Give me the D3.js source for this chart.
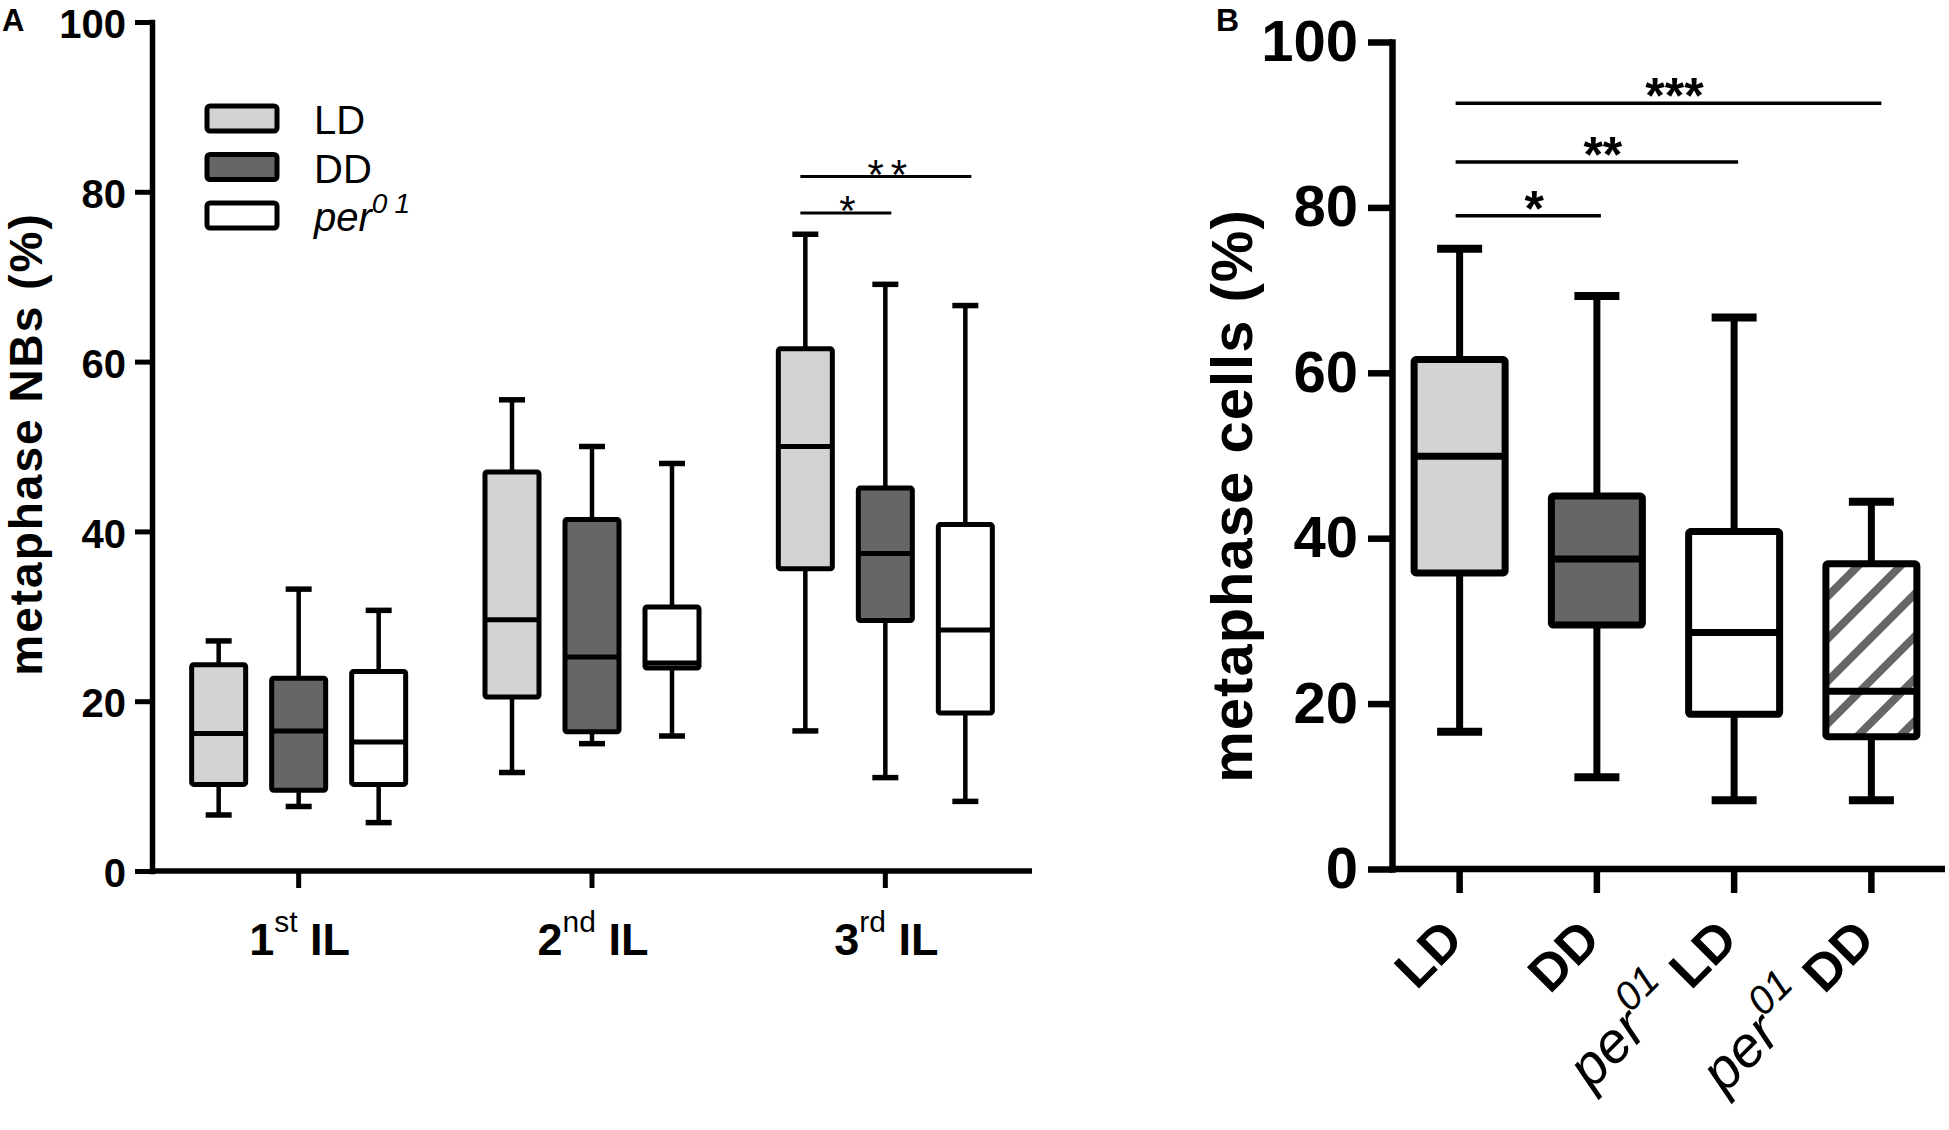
<!DOCTYPE html>
<html>
<head>
<meta charset="utf-8">
<script src="https://cdn.jsdelivr.net/npm/d3@7"></script>
<style>
body { margin: 0; background: #fff; }
text { font-family: "Liberation Sans", Arial, Helvetica, sans-serif; fill: #000; }
</style>
</head>
<body>
<div id="chart"></div>
<script>
const width = 1949;
const height = 1130;

// ---- data ----
// panel A: larval stages, three conditions per stage
const stages = ["1st", "2nd", "3rd"];
const stageNum = ["1", "2", "3"];
const stageSup = ["st", "nd", "rd"];
const conditions = ["LD", "DD", "per01"];
// [min, q1, median, q3, max] for LD, DD, per01
const boxA1st = [[6.6, 10.2, 16.2, 24.3, 27.1], [7.6, 9.5, 16.5, 22.7, 33.2], [5.7, 10.2, 15.2, 23.5, 30.7]];
const boxA2nd = [[11.6, 20.5, 29.6, 47.0, 55.5], [15.0, 16.4, 25.2, 41.4, 50.0], [15.9, 23.9, 24.5, 31.1, 48.0]];
const boxA3rd = [[16.5, 35.6, 50.0, 61.5, 75.0], [11.0, 29.5, 37.4, 45.1, 69.1], [8.2, 18.6, 28.4, 40.8, 66.6]];
const sigA = [
    {stage: "3rd", from: "LD", to: "DD", level: 77.5, label: "*"},
    {stage: "3rd", from: "LD", to: "per01", level: 81.8, label: "**"}
];

// panel B: third instar, four groups
const groupsB = ["LD", "DD", "perLD", "perDD"];
const boxB = [[16.6, 35.8, 49.9, 61.6, 75.0], [11.1, 29.5, 37.5, 45.1, 69.3], [8.3, 18.7, 28.6, 40.8, 66.7], [8.3, 16.0, 21.5, 36.9, 44.4]];
const sigB = [
    {from: "LD", to: "DD", level: 79.0, label: "*"},
    {from: "LD", to: "perLD", level: 85.5, label: "**"},
    {from: "LD", to: "perDD", level: 92.6, label: "***"}
];

const yTicks = [0, 20, 40, 60, 80, 100];

// ---- styles ----
const fills = {LD: "#d3d3d3", DD: "#666666", per01: "#ffffff", perLD: "#ffffff", perDD: "url(#hatch)"};

let svg = d3.select("#chart")
    .append("svg")
    .attr("width", width)
    .attr("height", height);

// hatch for per01 DD
let pat = svg.append("defs").append("pattern")
    .attr("id", "hatch")
    .attr("patternUnits", "userSpaceOnUse")
    .attr("width", 30).attr("height", 30)
    .attr("patternTransform", "rotate(45)");
pat.append("rect").attr("width", 30).attr("height", 30).attr("fill", "#fff");
pat.append("rect").attr("x", 0).attr("width", 8).attr("height", 30).attr("fill", "#666");

function drawBox(g, cx, s, y, o) {
    // whiskers
    g.append("line").attr("x1", cx).attr("x2", cx).attr("y1", y(s[4])).attr("y2", y(s[3]))
        .attr("stroke", "#000").attr("stroke-width", o.wsw);
    g.append("line").attr("x1", cx).attr("x2", cx).attr("y1", y(s[1])).attr("y2", y(s[0]))
        .attr("stroke", "#000").attr("stroke-width", o.wsw);
    // caps
    [s[0], s[4]].forEach(v => {
        g.append("line").attr("x1", cx - o.cap / 2).attr("x2", cx + o.cap / 2)
            .attr("y1", y(v)).attr("y2", y(v))
            .attr("stroke", "#000").attr("stroke-width", o.csw);
    });
    g.append("rect")
        .attr("x", cx - o.w / 2).attr("y", y(s[3]))
        .attr("width", o.w).attr("height", y(s[1]) - y(s[3]))
        .attr("rx", 2)
        .attr("fill", o.fill)
        .attr("stroke", "#000").attr("stroke-width", o.sw)
        .attr("stroke-linejoin", "round");
    g.append("line").attr("x1", cx - o.w / 2).attr("x2", cx + o.w / 2)
        .attr("y1", y(s[2])).attr("y2", y(s[2]))
        .attr("stroke", "#000").attr("stroke-width", o.sw);
}

// ================= panel A =================
let yA = d3.scaleLinear().domain([0, 100]).range([871, 22]);
let xA = d3.scaleBand().domain(stages).range([152, 1032]);
let xA1 = d3.scalePoint().domain(conditions).range([-80, 80]);
let cA = s => xA(s) + xA.bandwidth() / 2;
const boxesA = {"1st": boxA1st, "2nd": boxA2nd, "3rd": boxA3rd};

let gA = svg.append("g");
stages.forEach(st => {
    conditions.forEach((c, i) => {
        drawBox(gA, cA(st) + xA1(c), boxesA[st][i], yA,
            {w: 54, cap: 26, sw: 5, wsw: 4.5, csw: 5.5, fill: fills[c]});
    });
});

// y axis
let axA = svg.append("g").attr("transform", "translate(152,0)")
    .call(d3.axisLeft(yA).tickValues(yTicks).tickSize(17).tickSizeOuter(0).tickPadding(9));
axA.select(".domain").attr("stroke-width", 5.5).attr("stroke-linecap", "square");
axA.selectAll(".tick line").attr("stroke-width", 5);
axA.selectAll(".tick text")
    .attr("font-size", 40).attr("font-weight", "bold")
    .attr("dy", "0.39em")
    .attr("font-family", "'Liberation Sans', Arial, sans-serif");

// x axis
svg.append("line").attr("x1", 150).attr("x2", 1032).attr("y1", 871).attr("y2", 871)
    .attr("stroke", "#000").attr("stroke-width", 5.5);
stages.forEach((st, i) => {
    svg.append("line").attr("x1", cA(st)).attr("x2", cA(st)).attr("y1", 871).attr("y2", 888)
        .attr("stroke", "#000").attr("stroke-width", 5);
    let t = svg.append("text").attr("x", cA(st) + 1).attr("y", 955)
        .attr("text-anchor", "middle").attr("font-size", 45).attr("font-weight", "bold");
    t.append("tspan").text(stageNum[i]);
    t.append("tspan").attr("dy", -23).attr("font-size", 30).attr("font-weight", "normal").text(stageSup[i]);
    t.append("tspan").attr("dy", 23).text("\u00a0IL");
});

// y label
svg.append("text")
    .attr("transform", "translate(42,444) rotate(-90)")
    .attr("text-anchor", "middle")
    .attr("font-size", 46).attr("font-weight", "bold")
    .attr("letter-spacing", 2)
    .text("metaphase NBs (%)");

svg.append("text").attr("x", 2).attr("y", 31).attr("font-size", 31).attr("font-weight", "bold").text("A");

// legend
let legA = svg.append("g");
conditions.forEach((c, i) => {
    let y0 = 106 + i * 48.5;
    legA.append("rect").attr("x", 207).attr("y", y0).attr("width", 70).attr("height", 25)
        .attr("rx", 3).attr("fill", fills[c]).attr("stroke", "#000").attr("stroke-width", 5);
    let t = legA.append("text").attr("x", 314).attr("y", y0 + 28).attr("font-size", 40);
    if (c == "per01") {
        t.append("tspan").attr("font-style", "italic").text("per");
        t.append("tspan").attr("font-style", "italic").attr("font-size", 28)
            .attr("letter-spacing", 7).attr("dy", -18).text("01");
    } else {
        t.text(c);
    }
});

// significance A
sigA.forEach(s => {
    let x1 = cA(s.stage) + xA1(s.from) - 5;
    let x2 = cA(s.stage) + xA1(s.to) + 6;
    svg.append("line").attr("x1", x1).attr("x2", x2).attr("y1", yA(s.level)).attr("y2", yA(s.level))
        .attr("stroke", "#000").attr("stroke-width", 3);
    svg.append("text").attr("x", (x1 + x2) / 2 + 5).attr("y", yA(s.level) + 12)
        .attr("text-anchor", "middle").attr("font-size", 42).attr("letter-spacing", 7)
        .text(s.label);
});

// ================= panel B =================
let yB = d3.scaleLinear().domain([0, 100]).range([869, 42]);
let xB = d3.scaleBand().domain(groupsB).range([1391, 1940]);
let cB = g => xB(g) + xB.bandwidth() / 2;

let gB = svg.append("g");
groupsB.forEach((g, i) => {
    drawBox(gB, cB(g), boxB[i], yB, {w: 91, cap: 45, sw: 7, wsw: 7, csw: 8, fill: fills[g]});
});

let axB = svg.append("g").attr("transform", "translate(1392,0)")
    .call(d3.axisLeft(yB).tickValues(yTicks).tickSize(24).tickSizeOuter(0).tickPadding(10));
axB.select(".domain").attr("stroke-width", 6.5).attr("stroke-linecap", "square");
axB.selectAll(".tick line").attr("stroke-width", 6.5);
axB.selectAll(".tick text")
    .attr("font-size", 58).attr("font-weight", "bold")
    .attr("font-family", "'Liberation Sans', Arial, sans-serif");

svg.append("line").attr("x1", 1389).attr("x2", 1945).attr("y1", 869).attr("y2", 869)
    .attr("stroke", "#000").attr("stroke-width", 6.5);
groupsB.forEach(g => {
    svg.append("line").attr("x1", cB(g)).attr("x2", cB(g)).attr("y1", 869).attr("y2", 893)
        .attr("stroke", "#000").attr("stroke-width", 6.5);
    let t = svg.append("text")
        .attr("transform", "translate(" + (cB(g) + 6) + ",942) rotate(-45)")
        .attr("text-anchor", "end").attr("font-size", 52);
    if (g.startsWith("per")) {
        t.append("tspan").attr("font-style", "italic").attr("font-size", 57).text("per");
        t.append("tspan").attr("font-style", "italic").attr("font-size", 40).attr("dy", -27).text("01");
        t.append("tspan").attr("dy", 27).attr("font-weight", "bold").text("\u00a0" + g.slice(3));
    } else {
        t.attr("font-weight", "bold").text(g);
    }
});

svg.append("text")
    .attr("transform", "translate(1252,496) rotate(-90)")
    .attr("text-anchor", "middle")
    .attr("font-size", 58).attr("font-weight", "bold")
    .attr("letter-spacing", 1)
    .text("metaphase cells (%)");

svg.append("text").attr("x", 1216).attr("y", 31).attr("font-size", 32).attr("font-weight", "bold").text("B");

sigB.forEach(s => {
    let x1 = cB(s.from) - 4;
    let x2 = cB(s.to) + (s.to == "perDD" ? 10 : 4);
    svg.append("line").attr("x1", x1).attr("x2", x2).attr("y1", yB(s.level)).attr("y2", yB(s.level))
        .attr("stroke", "#000").attr("stroke-width", 3.5);
    svg.append("text").attr("x", (x1 + x2) / 2 + 6).attr("y", yB(s.level) + 10)
        .attr("text-anchor", "middle").attr("font-size", 50).attr("font-weight", "bold")
        .text(s.label);
});
</script>
</body>
</html>
